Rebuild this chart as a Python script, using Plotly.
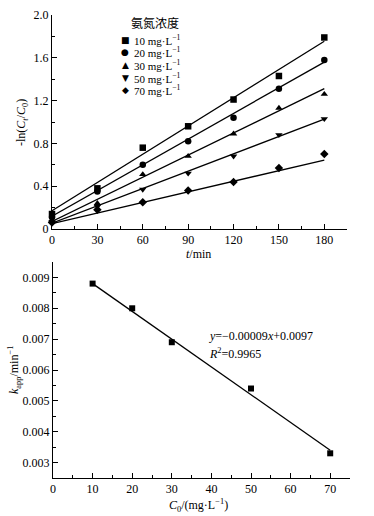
import plotly.graph_objects as go
from plotly.subplots import make_subplots

# ---------------- data ----------------
t_min = [0, 30, 60, 90, 120, 150, 180]
conc_labels = ["10", "20", "30", "50", "70"]
y_10 = [0.14, 0.38, 0.76, 0.96, 1.21, 1.43, 1.79]
y_20 = [0.11, 0.35, 0.60, 0.82, 1.04, 1.31, 1.58]
y_30 = [0.08, 0.24, 0.51, 0.68, 0.89, 1.13, 1.26]
y_50 = [0.07, 0.21, 0.37, 0.52, 0.68, 0.88, 1.03]
y_70 = [0.06, 0.18, 0.25, 0.36, 0.44, 0.57, 0.70]
series = [y_10, y_20, y_30, y_50, y_70]
fit_intercepts = [0.17, 0.12, 0.07, 0.055, 0.05]

c0 = [10, 20, 30, 50, 70]
kapp = [0.0088, 0.0080, 0.0069, 0.0054, 0.0033]
lin_slope = -0.00009
lin_intercept = 0.0097

symbols = ["square", "circle", "triangle-up", "triangle-down", "diamond"]
legend_glyphs = ["■", "●", "▲", "▼", "◆"]

W, H = 374, 516
SERIF = "Liberation Serif"


def px(x):
    return x / W


def py(y):
    return 1 - y / H


fig = make_subplots(rows=2, cols=1)

# top panel
for ys, b, k, sym, lab in zip(series, fit_intercepts, kapp, symbols, conc_labels):
    tf = [t_min[0], t_min[-1]]
    fig.add_trace(go.Scatter(x=tf, y=[b + k * tt for tt in tf], mode="lines",
                             line=dict(color="black", width=1.3),
                             showlegend=False, hoverinfo="skip"), row=1, col=1)
    fig.add_trace(go.Scatter(x=t_min, y=ys, mode="markers", name=lab + " mg·L⁻¹",
                             marker=dict(symbol=sym, size=6.5, color="black"),
                             cliponaxis=False, showlegend=False), row=1, col=1)

# bottom panel
xf = [c0[0], c0[-1]]
fig.add_trace(go.Scatter(x=xf, y=[lin_slope * v + lin_intercept for v in xf], mode="lines",
                         line=dict(color="black", width=1.3),
                         showlegend=False, hoverinfo="skip"), row=2, col=1)
fig.add_trace(go.Scatter(x=c0, y=kapp, mode="markers",
                         marker=dict(symbol="square", size=6, color="black"),
                         cliponaxis=False, showlegend=False), row=2, col=1)

axis_common = dict(showline=True, linecolor="black", linewidth=1, ticks="inside",
                   ticklen=5, tickwidth=1, tickcolor="black", showgrid=False,
                   zeroline=False, mirror=False, automargin=False,
                   tickfont=dict(family=SERIF, size=12, color="black"))

fig.update_xaxes(**axis_common, row=1, col=1, range=[0, 195],
                 tickvals=t_min, ticktext=[str(v) for v in t_min],
                 minor=dict(dtick=15, tick0=0, ticks="inside", ticklen=3, tickcolor="black", showgrid=False),
                 domain=[px(52), px(347)])
fig.update_yaxes(**axis_common, row=1, col=1, range=[0, 2.0],
                 tickvals=[0, 0.4, 0.8, 1.2, 1.6, 2.0],
                 ticktext=["0", "0.4", "0.8", "1.2", "1.6", "2.0"],
                 minor=dict(dtick=0.2, tick0=0, ticks="inside", ticklen=3, tickcolor="black", showgrid=False),
                 domain=[py(229), py(15)])
fig.update_xaxes(**axis_common, row=2, col=1, range=[0, 75],
                 tickvals=[0, 10, 20, 30, 40, 50, 60, 70],
                 minor=dict(dtick=5, tick0=0, ticks="inside", ticklen=3, tickcolor="black", showgrid=False),
                 domain=[px(53), px(350)])
fig.update_yaxes(**axis_common, row=2, col=1, range=[0.0025, 0.0095],
                 tickvals=[0.003, 0.004, 0.005, 0.006, 0.007, 0.008, 0.009],
                 ticktext=["0.003", "0.004", "0.005", "0.006", "0.007", "0.008", "0.009"],
                 minor=dict(dtick=0.0005, tick0=0.0025, ticks="inside", ticklen=3, tickcolor="black", showgrid=False),
                 domain=[py(478), py(262)])

ann = []
tf_ = dict(family=SERIF, size=12, color="black")
# axis titles
ann.append(dict(x=px(22), y=py(123), text="-ln(<i>C</i><sub><i>t</i></sub>/<i>C</i><sub>0</sub>)",
                textangle=-90, font=tf_))
ann.append(dict(x=px(198), y=py(254), text="<i>t</i>/min", font=tf_))
ann.append(dict(x=px(14), y=py(370), text="<i>k</i><sub>app</sub>/min<sup>−1</sup>",
                textangle=-90, font=tf_))
ann.append(dict(x=px(198), y=py(505), text="<i>C</i><sub>0</sub>/(mg·L<sup>−1</sup>)", font=tf_))
# equation
ann.append(dict(x=px(207), y=py(336), xanchor="left", text="<i>y</i>=−0.00009<i>x</i>+0.0097", font=tf_))
ann.append(dict(x=px(207), y=py(353), xanchor="left", text="<i>R</i><sup>2</sup>=0.9965", font=tf_))
# legend
ann.append(dict(x=px(155), y=py(23), text="氨氮浓度",
                font=dict(family="Noto Sans CJK SC", size=12, color="black")))
row_y = [39.5, 52.5, 65, 77.5, 90.5]
for g, lab, yy in zip(legend_glyphs, conc_labels, row_y):
    ann.append(dict(x=px(125), y=py(yy), text=g,
                    font=dict(family="DejaVu Sans", size=9, color="black")))
    ann.append(dict(x=px(132), y=py(yy), xanchor="left", text=lab + " mg·L<sup>−1</sup>",
                    font=dict(family=SERIF, size=11, color="black")))

for a in ann:
    a.setdefault("xref", "paper")
    a.setdefault("yref", "paper")
    a.setdefault("showarrow", False)
    a.setdefault("xanchor", "center")
    a.setdefault("yanchor", "middle")

fig.update_layout(width=W, height=H, margin=dict(l=0, r=0, t=0, b=0, autoexpand=False),
                  plot_bgcolor="white", paper_bgcolor="white",
                  annotations=ann, showlegend=False)

fig.write_html("out.html", config={"responsive": False, "displayModeBar": False},
               post_script="document.body.style.margin='0';document.body.style.overflow='hidden';")
